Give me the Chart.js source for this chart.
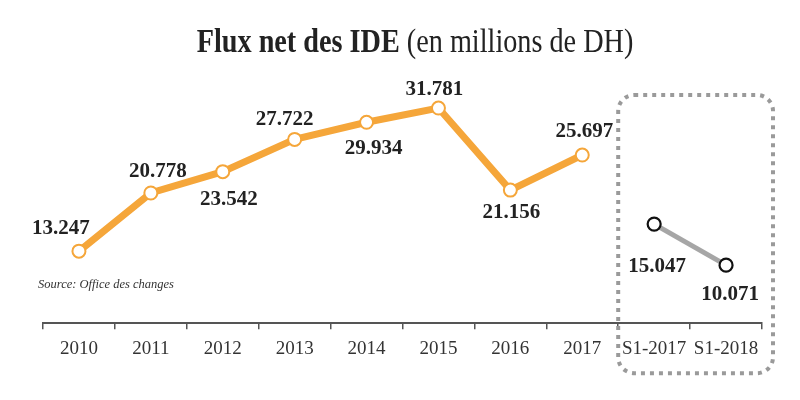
<!DOCTYPE html>
<html lang="fr">
<head>
<meta charset="UTF-8">
<title>Flux net des IDE</title>
<script src="https://cdn.jsdelivr.net/npm/chart.js@4.4.0/dist/chart.umd.min.js"></script>
<style>
    body { margin: 0; background: #fff; }
    .wrap { position: relative; width: 800px; height: 400px; }
    .title {
        position: absolute; left: 15px; top: 21px; width: 800px;
        text-align: center; font-family: 'Liberation Serif', serif;
        font-size: 34px; line-height: 40px; color: #222;
    }
    .title .inner { display: inline-block; white-space: nowrap; transform: scaleX(0.83); }
    .title b { font-weight: bold; }
    .source {
        position: absolute; left: 38px; top: 277px;
        font-family: 'Liberation Serif', serif; font-style: italic;
        font-size: 12.5px; color: #333;
    }
    canvas { position: absolute; left: 0; top: 0; }
</style>
</head>
<body>
<div class="wrap">
    <canvas id="ide" width="800" height="400"></canvas>
    <div class="title"><span class="inner"><b>Flux net des IDE</b> (en millions de DH)</span></div>
    <div class="source">Source: Office des changes</div>
</div>

<script>
    // values in millions of DH
    const periods = ['2010', '2011', '2012', '2013', '2014', '2015', '2016', '2017', 'S1-2017', 'S1-2018'];
    const annualFlows = [13247, 20778, 23542, 27722, 29934, 31781, 21156, 25697, null, null];
    const semesterFlows = [null, null, null, null, null, null, null, null, 15047, 10071];

    // where each value label sits relative to its point (px)
    const labelShift = [
        [-18, -23], [7, -21], [6, 28], [-10, -20], [7, 26],
        [-4, -18], [1, 22], [2, -23], [3, 42], [4, 29]
    ];

    const fmt = v => (v / 1000).toFixed(3);

    const valueLabels = {
        id: 'valueLabels',
        afterDatasetsDraw(chart) {
            const ctx = chart.ctx;
            ctx.save();
            ctx.font = 'bold 21px "Liberation Serif", serif';
            ctx.fillStyle = '#222';
            ctx.textAlign = 'center';
            ctx.textBaseline = 'middle';
            chart.data.datasets.forEach((ds, di) => {
                chart.getDatasetMeta(di).data.forEach((pt, i) => {
                    const v = ds.data[i];
                    if (v == null) return;
                    const s = labelShift[i];
                    ctx.fillText(fmt(v), pt.x + s[0], pt.y + s[1]);
                });
            });
            ctx.restore();
        }
    };

    // dotted frame around the half-year points
    const halfYearBox = {
        id: 'halfYearBox',
        afterDraw(chart) {
            const x = chart.scales.x;
            const area = chart.chartArea;
            const step = x.getPixelForValue(9) - x.getPixelForValue(8);
            const left = x.getPixelForValue(8) - step / 2;
            const right = area.right + 11;
            const top = area.top + 15;
            const bottom = area.bottom + 50;
            const ctx = chart.ctx;
            ctx.save();
            ctx.strokeStyle = '#9a9a9a';
            ctx.lineWidth = 4;
            ctx.setLineDash([4, 5]);
            ctx.beginPath();
            ctx.roundRect(left, top, right - left, bottom - top, 16);
            ctx.stroke();
            ctx.restore();
        }
    };

    new Chart(document.getElementById('ide'), {
        type: 'line',
        data: {
            labels: periods,
            datasets: [
                {
                    data: annualFlows,
                    borderColor: '#f5a63a',
                    borderWidth: 7,
                    pointRadius: 6.5,
                    pointBorderWidth: 2,
                    pointBorderColor: '#f5a63a',
                    pointBackgroundColor: '#fff',
                    tension: 0,
                    yAxisID: 'y'
                },
                {
                    data: semesterFlows,
                    borderColor: '#a6a6a6',
                    borderWidth: 5,
                    pointRadius: 6.5,
                    pointBorderWidth: 2.2,
                    pointBorderColor: '#111',
                    pointBackgroundColor: '#fff',
                    tension: 0,
                    yAxisID: 'y2'
                }
            ]
        },
        options: {
            responsive: false,
            animation: false,
            layout: { padding: { left: 43, right: 38, top: 80, bottom: 32 } },
            plugins: { legend: { display: false }, tooltip: { enabled: false } },
            scales: {
                x: {
                    offset: true,
                    border: { display: true, color: '#555', width: 2 },
                    grid: { offset: true, drawOnChartArea: false, drawTicks: true, tickLength: 6, color: '#555', lineWidth: 1.5 },
                    ticks: {
                        color: '#333', padding: 8, maxRotation: 0, minRotation: 0, autoSkip: false,
                        font: { family: '"Liberation Serif", serif', size: 19 }
                    }
                },
                y: { display: false, min: 3920, max: 35410 },
                y2: { display: false, min: 3030, max: 32520 }
            }
        },
        plugins: [valueLabels, halfYearBox]
    });
</script>
</body>
</html>
